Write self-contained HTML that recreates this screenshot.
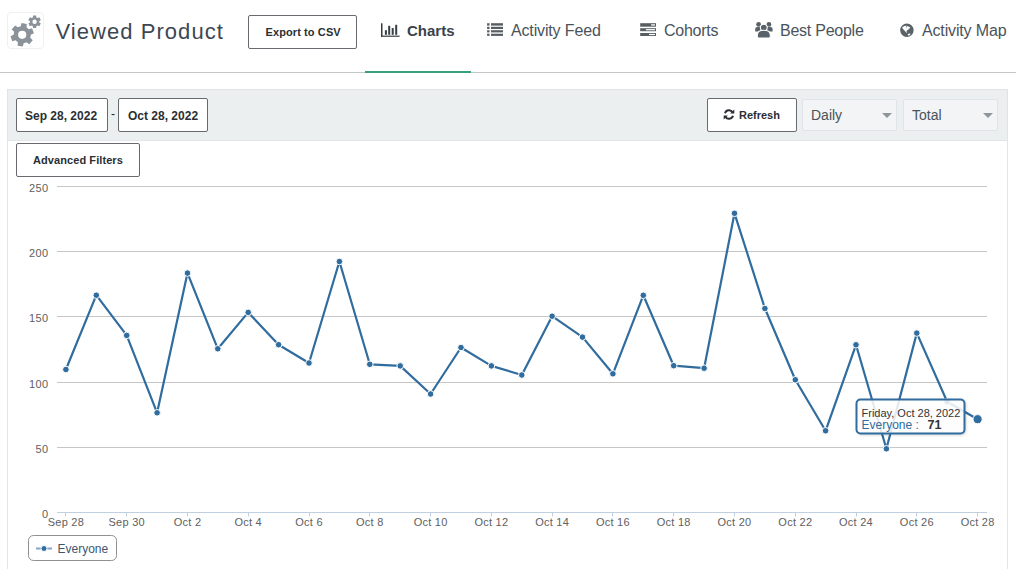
<!DOCTYPE html>
<html><head><meta charset="utf-8">
<style>
*{box-sizing:border-box;margin:0;padding:0}
html,body{width:1016px;height:569px;overflow:hidden;background:#fff;font-family:"Liberation Sans",sans-serif}
.abs{position:absolute}
.t{position:absolute;white-space:nowrap;line-height:1}
.btn{position:absolute;background:#fff;border:1px solid #676b70;border-radius:2px}
</style></head><body>
<!-- header -->
<div class="abs" style="left:7px;top:12px;width:37px;height:37px;border:1px solid #f0f0f0;border-radius:4px"></div>
<svg class="abs" style="left:0;top:0" width="50" height="55" viewBox="0 0 50 55">
  <g fill="#8b9299">
    <path id="g1" fill-rule="evenodd" d="M20.71 26.33 L21.58 23.02 L26.81 23.94 L26.50 27.35 L28.79 29.27 L32.10 28.37 L33.91 33.36 L30.80 34.80 L30.28 37.74 L32.71 40.16 L29.30 44.22 L26.50 42.25 L23.69 43.27 L22.82 46.58 L17.59 45.66 L17.90 42.25 L15.61 40.33 L12.30 41.23 L10.49 36.24 L13.60 34.80 L14.12 31.86 L11.69 29.44 L15.10 25.38 L17.90 27.35ZM26.30 34.80A4.1 4.1 0 1 0 18.10 34.80A4.1 4.1 0 1 0 26.30 34.80ZM32.84 17.44 L33.03 15.49 L36.17 15.49 L36.36 17.44 L37.49 18.10 L39.28 17.28 L40.85 20.01 L39.25 21.15 L39.25 22.45 L40.85 23.59 L39.28 26.32 L37.49 25.50 L36.36 26.16 L36.17 28.11 L33.03 28.11 L32.84 26.16 L31.71 25.50 L29.92 26.32 L28.35 23.59 L29.95 22.45 L29.95 21.15 L28.35 20.01 L29.92 17.28 L31.71 18.10ZM36.80 21.80A2.2 2.2 0 1 0 32.40 21.80A2.2 2.2 0 1 0 36.80 21.80Z"/>
  </g>
</svg>
<div class="t" style="left:55.5px;top:21px;font-size:22px;letter-spacing:1.05px;color:#3d4751">Viewed Product</div>
<div class="btn" style="left:248px;top:15px;width:109px;height:34px"></div>
<div class="t" style="left:265.5px;top:27px;font-size:11px;font-weight:bold;letter-spacing:0.1px;color:#2b2f33">Export to CSV</div>

<!-- nav -->
<svg class="abs" style="left:376px;top:18px" width="30" height="24">
  <g fill="#363d43">
    <rect x="5" y="5.3" width="1.5" height="13.5"/>
    <rect x="5" y="17.6" width="18.6" height="1.2"/>
    <rect x="8.9" y="12.2" width="2" height="4.6"/>
    <rect x="12.2" y="7.8" width="2" height="9"/>
    <rect x="15.7" y="10.1" width="2" height="6.7"/>
    <rect x="19.2" y="6.8" width="2" height="10"/>
  </g>
</svg>
<div class="t" style="left:407px;top:23px;font-size:15px;font-weight:bold;color:#3a4249">Charts</div>
<div class="abs" style="left:365px;top:71px;width:106px;height:2px;background:#36a07a;z-index:2"></div>

<svg class="abs" style="left:482px;top:17px" width="28" height="25">
  <g fill="#565d63">
    <rect x="5.1" y="6.2" width="2.4" height="2.4"/><rect x="9" y="6.2" width="12" height="2.4"/>
    <rect x="5.1" y="9.8" width="2.4" height="2.2"/><rect x="9" y="9.8" width="12" height="2.2"/>
    <rect x="5.1" y="13.2" width="2.4" height="2.2"/><rect x="9" y="13.2" width="12" height="2.2"/>
    <rect x="5.1" y="16.7" width="2.4" height="2.2"/><rect x="9" y="16.7" width="12" height="2.2"/>
  </g>
</svg>
<div class="t" style="left:511px;top:23px;font-size:16px;letter-spacing:-0.15px;color:#4a535b">Activity Feed</div>

<svg class="abs" style="left:634px;top:17px" width="28" height="25">
  <g fill="#565d63">
    <rect x="6.2" y="6.2" width="15.8" height="3.5"/>
    <rect x="6.2" y="11.2" width="15.8" height="3"/>
    <rect x="6.2" y="16" width="15.8" height="3"/>
  </g>
  <g fill="#fff">
    <rect x="17.1" y="7.3" width="3.9" height="1.3"/>
    <rect x="11.9" y="12.1" width="9.1" height="1.2"/>
    <rect x="15" y="16.9" width="6" height="1.2"/>
  </g>
</svg>
<div class="t" style="left:664px;top:23px;font-size:16px;letter-spacing:-0.25px;color:#4a535b">Cohorts</div>

<svg class="abs" style="left:750px;top:17px" width="28" height="25">
  <g fill="#5a6269">
    <circle cx="8.6" cy="7.4" r="2.4"/>
    <circle cx="18.9" cy="7.4" r="2.4"/>
    <path d="M5.2 12.3c0-1.3.9-2.2 2.2-2.2h2.4c1.2 0 2.2.9 2.2 2.2v2.3H5.2z"/>
    <path d="M15.8 12.3c0-1.3 1-2.2 2.2-2.2h2.4c1.3 0 2.2.9 2.2 2.2v2.3h-6.8z"/>
  </g>
  <g fill="#5a6269" stroke="#fff" stroke-width="1.1">
    <circle cx="13.8" cy="10.6" r="3.4"/>
    <path d="M7.3 18.2c0-3 2.4-4.9 6.5-4.9s6.5 1.9 6.5 4.9v1.6c0 .8-.5 1.3-1.3 1.3H8.6c-.8 0-1.3-.5-1.3-1.3z"/>
  </g>
</svg>
<div class="t" style="left:780px;top:23px;font-size:16px;letter-spacing:-0.25px;color:#4a535b">Best People</div>

<svg class="abs" style="left:894px;top:17px" width="28" height="25">
  <circle cx="12.9" cy="13.3" r="6.7" fill="#5a6269"/>
  <path fill="#fff" d="M8.2 10.3L10.5 8.9L12.2 8.7L13.8 9.2L16.4 10.6L14.7 12.3L13 13.4L12.4 14.6L13.3 15.7L12.2 15.5L10.2 13.2L8.8 11.7ZM13.5 17.6L15 16.6L16.5 16.8L15.8 18.2L14.2 18.6Z"/>
  <circle cx="12.5" cy="9.8" r="0.6" fill="#5a6269"/>
</svg>
<div class="t" style="left:922px;top:23px;font-size:16px;letter-spacing:-0.15px;color:#4a535b">Activity Map</div>

<div class="abs" style="left:0;top:72px;width:1016px;height:1px;background:#c4c7c9"></div>

<!-- panel -->
<div class="abs" style="left:7px;top:89px;width:1001px;height:52px;background:#eceff0;border:1px solid #e1e4e6;border-bottom:1px solid #e3e6e8"></div>
<div class="abs" style="left:7px;top:140px;width:1px;height:429px;background:#e3e6e8"></div>
<div class="abs" style="left:1007px;top:140px;width:1px;height:429px;background:#e3e6e8"></div>

<div class="btn" style="left:16px;top:98px;width:92px;height:34px"></div>
<div class="t" style="left:25px;top:110px;font-size:12px;font-weight:bold;color:#2b2f33">Sep 28, 2022</div>
<div class="t" style="left:111px;top:108px;font-size:12px;color:#222">-</div>
<div class="btn" style="left:118px;top:98px;width:90px;height:34px"></div>
<div class="t" style="left:128px;top:110px;font-size:12px;font-weight:bold;color:#2b2f33">Oct 28, 2022</div>

<div class="btn" style="left:707px;top:98px;width:90px;height:34px"></div>
<svg class="abs" style="left:722px;top:108px" width="14" height="13" viewBox="0 0 14 13">
  <path fill="none" stroke="#2b2f33" stroke-width="2" d="M3 5.2A4.2 4.2 0 0 1 10.6 4.3M11 7.8A4.2 4.2 0 0 1 3.4 8.7"/>
  <path fill="#2b2f33" d="M12.3 1.4v4.2H8.1zM1.7 11.6V7.4h4.2z"/>
</svg>
<div class="t" style="left:739px;top:110px;font-size:11px;font-weight:bold;color:#2b2f33">Refresh</div>

<div class="abs" style="left:802px;top:99px;width:95px;height:32px;background:#f2f4f5;border:1px solid #e1e4e6;border-radius:2px"></div>
<div class="t" style="left:811px;top:108px;font-size:14px;color:#4a535b">Daily</div>
<svg class="abs" style="left:881px;top:112px" width="12" height="7"><path d="M1 1h10l-5 5z" fill="#8e959b"/></svg>
<div class="abs" style="left:903px;top:99px;width:95px;height:32px;background:#f2f4f5;border:1px solid #e1e4e6;border-radius:2px"></div>
<div class="t" style="left:912px;top:108px;font-size:14px;color:#4a535b">Total</div>
<svg class="abs" style="left:982px;top:112px" width="12" height="7"><path d="M1 1h10l-5 5z" fill="#8e959b"/></svg>

<div class="btn" style="left:16px;top:143px;width:124px;height:34px"></div>
<div class="t" style="left:33px;top:155px;font-size:11px;font-weight:bold;letter-spacing:0.08px;color:#2b2f33">Advanced Filters</div>

<!-- chart -->
<svg class="abs" style="left:0;top:0" width="1016" height="569" id="chart">
<path d="M57 186.5H987" stroke="#c6c6c6" stroke-width="1"/>
<path d="M57 251.5H987" stroke="#c6c6c6" stroke-width="1"/>
<path d="M57 316.5H987" stroke="#c6c6c6" stroke-width="1"/>
<path d="M57 382.5H987" stroke="#c6c6c6" stroke-width="1"/>
<path d="M57 447.5H987" stroke="#c6c6c6" stroke-width="1"/>
<text x="48.5" y="191.5" text-anchor="end" font-size="11" fill="#606060" letter-spacing="0.4">250</text>
<text x="48.5" y="256.5" text-anchor="end" font-size="11" fill="#606060" letter-spacing="0.4">200</text>
<text x="48.5" y="321.5" text-anchor="end" font-size="11" fill="#606060" letter-spacing="0.4">150</text>
<text x="48.5" y="387.5" text-anchor="end" font-size="11" fill="#606060" letter-spacing="0.4">100</text>
<text x="48.5" y="452.5" text-anchor="end" font-size="11" fill="#606060" letter-spacing="0.4">50</text>
<text x="48.5" y="517.5" text-anchor="end" font-size="11" fill="#606060" letter-spacing="0.4">0</text>
<path d="M57 512.5H987" stroke="#c0d0e0" stroke-width="1"/>
<path d="M65.5 512V516.5" stroke="#c0d0e0" stroke-width="1"/>
<text x="65.9" y="525.6" text-anchor="middle" font-size="11" fill="#606060" letter-spacing="0.25">Sep 28</text>
<path d="M126.5 512V516.5" stroke="#c0d0e0" stroke-width="1"/>
<text x="126.7" y="525.6" text-anchor="middle" font-size="11" fill="#606060" letter-spacing="0.25">Sep 30</text>
<path d="M187.5 512V516.5" stroke="#c0d0e0" stroke-width="1"/>
<text x="187.5" y="525.6" text-anchor="middle" font-size="11" fill="#606060" letter-spacing="0.25">Oct 2</text>
<path d="M248.5 512V516.5" stroke="#c0d0e0" stroke-width="1"/>
<text x="248.2" y="525.6" text-anchor="middle" font-size="11" fill="#606060" letter-spacing="0.25">Oct 4</text>
<path d="M309.5 512V516.5" stroke="#c0d0e0" stroke-width="1"/>
<text x="309.0" y="525.6" text-anchor="middle" font-size="11" fill="#606060" letter-spacing="0.25">Oct 6</text>
<path d="M369.5 512V516.5" stroke="#c0d0e0" stroke-width="1"/>
<text x="369.8" y="525.6" text-anchor="middle" font-size="11" fill="#606060" letter-spacing="0.25">Oct 8</text>
<path d="M430.5 512V516.5" stroke="#c0d0e0" stroke-width="1"/>
<text x="430.6" y="525.6" text-anchor="middle" font-size="11" fill="#606060" letter-spacing="0.25">Oct 10</text>
<path d="M491.5 512V516.5" stroke="#c0d0e0" stroke-width="1"/>
<text x="491.4" y="525.6" text-anchor="middle" font-size="11" fill="#606060" letter-spacing="0.25">Oct 12</text>
<path d="M552.5 512V516.5" stroke="#c0d0e0" stroke-width="1"/>
<text x="552.1" y="525.6" text-anchor="middle" font-size="11" fill="#606060" letter-spacing="0.25">Oct 14</text>
<path d="M612.5 512V516.5" stroke="#c0d0e0" stroke-width="1"/>
<text x="612.9" y="525.6" text-anchor="middle" font-size="11" fill="#606060" letter-spacing="0.25">Oct 16</text>
<path d="M673.5 512V516.5" stroke="#c0d0e0" stroke-width="1"/>
<text x="673.7" y="525.6" text-anchor="middle" font-size="11" fill="#606060" letter-spacing="0.25">Oct 18</text>
<path d="M734.5 512V516.5" stroke="#c0d0e0" stroke-width="1"/>
<text x="734.5" y="525.6" text-anchor="middle" font-size="11" fill="#606060" letter-spacing="0.25">Oct 20</text>
<path d="M795.5 512V516.5" stroke="#c0d0e0" stroke-width="1"/>
<text x="795.3" y="525.6" text-anchor="middle" font-size="11" fill="#606060" letter-spacing="0.25">Oct 22</text>
<path d="M856.5 512V516.5" stroke="#c0d0e0" stroke-width="1"/>
<text x="856.0" y="525.6" text-anchor="middle" font-size="11" fill="#606060" letter-spacing="0.25">Oct 24</text>
<path d="M916.5 512V516.5" stroke="#c0d0e0" stroke-width="1"/>
<text x="916.8" y="525.6" text-anchor="middle" font-size="11" fill="#606060" letter-spacing="0.25">Oct 26</text>
<path d="M977.5 512V516.5" stroke="#c0d0e0" stroke-width="1"/>
<text x="977.6" y="525.6" text-anchor="middle" font-size="11" fill="#606060" letter-spacing="0.25">Oct 28</text>
<path d="M65.9 369.5 L96.3 295.2 L126.7 335.4 L157.1 412.8 L187.5 273.1 L217.8 348.8 L248.2 312.4 L278.6 344.7 L309.0 363.0 L339.4 261.5 L369.8 364.3 L400.2 365.9 L430.6 394.0 L461.0 347.5 L491.4 365.9 L521.8 375.0 L552.1 316.2 L582.5 337.1 L612.9 373.8 L643.3 295.3 L673.7 365.7 L704.1 368.2 L734.5 213.3 L764.9 308.5 L795.3 379.8 L825.6 430.8 L856.0 344.8 L886.4 448.8 L916.8 333.1 L947.2 401.7 L977.6 419.2" fill="none" stroke="#306c9e" stroke-width="2.2" stroke-linejoin="round"/>
<circle cx="65.9" cy="369.5" r="3.3" fill="#306c9e" stroke="#fff" stroke-width="1"/>
<circle cx="96.3" cy="295.2" r="3.3" fill="#306c9e" stroke="#fff" stroke-width="1"/>
<circle cx="126.7" cy="335.4" r="3.3" fill="#306c9e" stroke="#fff" stroke-width="1"/>
<circle cx="157.1" cy="412.8" r="3.3" fill="#306c9e" stroke="#fff" stroke-width="1"/>
<circle cx="187.5" cy="273.1" r="3.3" fill="#306c9e" stroke="#fff" stroke-width="1"/>
<circle cx="217.8" cy="348.8" r="3.3" fill="#306c9e" stroke="#fff" stroke-width="1"/>
<circle cx="248.2" cy="312.4" r="3.3" fill="#306c9e" stroke="#fff" stroke-width="1"/>
<circle cx="278.6" cy="344.7" r="3.3" fill="#306c9e" stroke="#fff" stroke-width="1"/>
<circle cx="309.0" cy="363.0" r="3.3" fill="#306c9e" stroke="#fff" stroke-width="1"/>
<circle cx="339.4" cy="261.5" r="3.3" fill="#306c9e" stroke="#fff" stroke-width="1"/>
<circle cx="369.8" cy="364.3" r="3.3" fill="#306c9e" stroke="#fff" stroke-width="1"/>
<circle cx="400.2" cy="365.9" r="3.3" fill="#306c9e" stroke="#fff" stroke-width="1"/>
<circle cx="430.6" cy="394.0" r="3.3" fill="#306c9e" stroke="#fff" stroke-width="1"/>
<circle cx="461.0" cy="347.5" r="3.3" fill="#306c9e" stroke="#fff" stroke-width="1"/>
<circle cx="491.4" cy="365.9" r="3.3" fill="#306c9e" stroke="#fff" stroke-width="1"/>
<circle cx="521.8" cy="375.0" r="3.3" fill="#306c9e" stroke="#fff" stroke-width="1"/>
<circle cx="552.1" cy="316.2" r="3.3" fill="#306c9e" stroke="#fff" stroke-width="1"/>
<circle cx="582.5" cy="337.1" r="3.3" fill="#306c9e" stroke="#fff" stroke-width="1"/>
<circle cx="612.9" cy="373.8" r="3.3" fill="#306c9e" stroke="#fff" stroke-width="1"/>
<circle cx="643.3" cy="295.3" r="3.3" fill="#306c9e" stroke="#fff" stroke-width="1"/>
<circle cx="673.7" cy="365.7" r="3.3" fill="#306c9e" stroke="#fff" stroke-width="1"/>
<circle cx="704.1" cy="368.2" r="3.3" fill="#306c9e" stroke="#fff" stroke-width="1"/>
<circle cx="734.5" cy="213.3" r="3.3" fill="#306c9e" stroke="#fff" stroke-width="1"/>
<circle cx="764.9" cy="308.5" r="3.3" fill="#306c9e" stroke="#fff" stroke-width="1"/>
<circle cx="795.3" cy="379.8" r="3.3" fill="#306c9e" stroke="#fff" stroke-width="1"/>
<circle cx="825.6" cy="430.8" r="3.3" fill="#306c9e" stroke="#fff" stroke-width="1"/>
<circle cx="856.0" cy="344.8" r="3.3" fill="#306c9e" stroke="#fff" stroke-width="1"/>
<circle cx="886.4" cy="448.8" r="3.3" fill="#306c9e" stroke="#fff" stroke-width="1"/>
<circle cx="916.8" cy="333.1" r="3.3" fill="#306c9e" stroke="#fff" stroke-width="1"/>
<circle cx="947.2" cy="401.7" r="3.3" fill="#306c9e" stroke="#fff" stroke-width="1"/>
<circle cx="977.6" cy="419.2" r="4.6" fill="#306c9e" stroke="#fff" stroke-width="1"/>
<rect x="28.5" y="535.5" width="88" height="25" rx="5" fill="#fff" stroke="#909090" stroke-width="1"/>
<path d="M36 548.5H52" stroke="#306c9e" stroke-opacity="0.6" stroke-width="2"/>
<circle cx="44" cy="548.5" r="3" fill="#306c9e" stroke="#fff" stroke-width="1"/>
<text x="57.5" y="553" font-size="12" fill="#3e576f">Everyone</text>
<filter id="sh" x="-20%" y="-20%" width="140%" height="160%"><feDropShadow dx="1" dy="1" stdDeviation="1" flood-color="#000" flood-opacity="0.15"/></filter>
<rect x="856.5" y="399.5" width="108" height="34" rx="4" fill="#fff" fill-opacity="0.85" stroke="#306c9e" stroke-width="2" filter="url(#sh)"/>
<text x="861.5" y="416.5" font-size="11" fill="#333">Friday, Oct 28, 2022</text>
<text x="861.5" y="429" font-size="12" fill="#306c9e">Everyone :</text>
<text x="927.5" y="429" font-size="12.5" font-weight="bold" fill="#333">71</text>
</svg>

</body></html>
